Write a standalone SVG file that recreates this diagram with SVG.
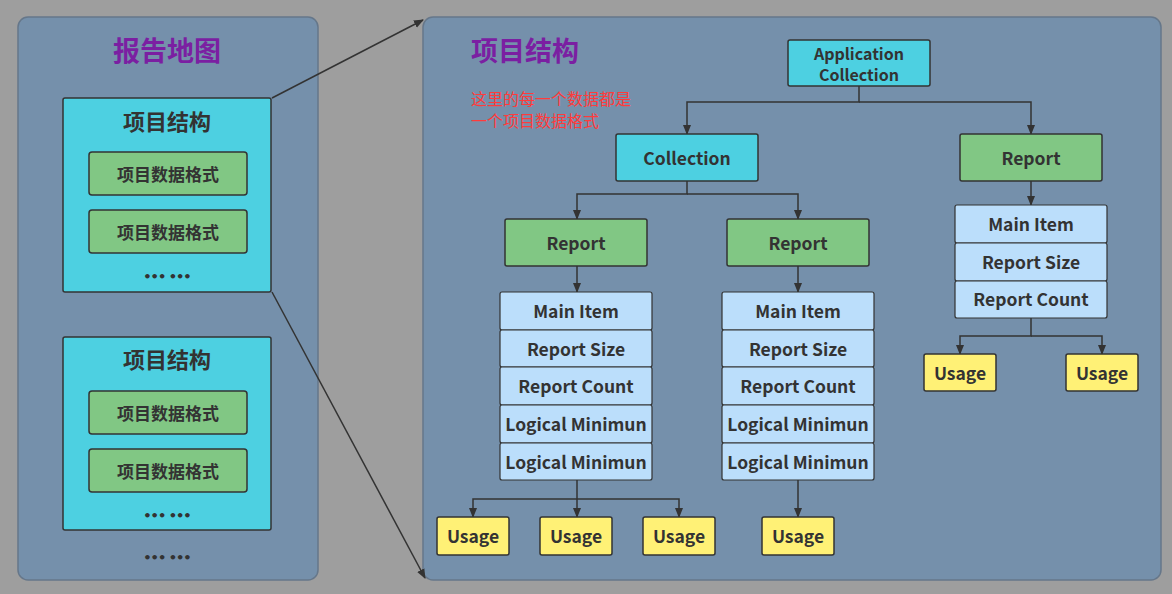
<svg xmlns="http://www.w3.org/2000/svg" width="1172" height="594" viewBox="0 0 1172 594">
<style>
text{font-family:"Noto Sans CJK SC","Open Sans",sans-serif;font-weight:bold;fill:#333;text-anchor:middle;dominant-baseline:central}
.panel{fill:#7590ab;stroke:#66778a;stroke-width:1.5}
.cy{fill:#4dd0e1;stroke:#333;stroke-width:1.5}
.gr{fill:#81c784;stroke:#333;stroke-width:1.5}
.lb{fill:#bbdefb;stroke:#333;stroke-width:1.2}
.ye{fill:#fff176;stroke:#333;stroke-width:1.5}
.t{font-size:17.5px}
.g{font-size:17px}
.h{font-size:22px}
.d{font-size:13px;font-family:"DejaVu Sans",sans-serif;letter-spacing:-1px}
.p{font-size:27px;fill:#7b1fa2}
.r{text-anchor:start;font-size:16px;font-weight:normal;fill:#ff3b3b}
.c path{fill:none;stroke:#333;stroke-width:1.5}
</style>
<defs><marker id="a" markerWidth="10" markerHeight="10" refX="9" refY="5" orient="auto" markerUnits="userSpaceOnUse"><path d="M0,1 L10,5 L0,9 Z" fill="#333"/></marker></defs>
<rect width="1172" height="594" fill="#9e9e9e"/>
<g id="left-panel">
<rect class="panel" x="18" y="17" width="300" height="563" rx="10"/>
<text class="p" x="167" y="49">报告地图</text>
<text class="d" x="167" y="557">••• •••</text>
</g>
<g id="struct1">
<rect class="cy" x="63" y="98" width="208" height="194" rx="2"/>
<text class="h" x="167" y="120">项目结构</text>
<rect class="gr" x="89" y="152" width="158" height="43" rx="3"/><text class="g" x="168" y="173">项目数据格式</text>
<rect class="gr" x="89" y="210" width="158" height="43" rx="3"/><text class="g" x="168" y="231">项目数据格式</text>
<text class="d" x="167" y="276">••• •••</text>
</g>
<g id="struct2">
<rect class="cy" x="63" y="337" width="208" height="193" rx="2"/>
<text class="h" x="167" y="358">项目结构</text>
<rect class="gr" x="89" y="391" width="158" height="43" rx="3"/><text class="g" x="168" y="412">项目数据格式</text>
<rect class="gr" x="89" y="449" width="158" height="43" rx="3"/><text class="g" x="168" y="470">项目数据格式</text>
<text class="d" x="167" y="515">••• •••</text>
</g>
<g id="right-panel">
<rect class="panel" x="423" y="17" width="738" height="563" rx="10"/>
<text class="p" x="471" y="49" style="text-anchor:start">项目结构</text>
<text class="r" x="471" y="98">这里的每一个数据都是</text>
<text class="r" x="471" y="120">一个项目数据格式</text>
</g>
<g class="c" id="connectors">
<path d="M272,98 L423,20" marker-end="url(#a)"/>
<path d="M272,292 L425,578" marker-end="url(#a)"/>
<path d="M859,86 V102 H687 V134" marker-end="url(#a)"/>
<path d="M859,102 H1031 V134" marker-end="url(#a)"/>
<path d="M687,181 V194 H577 V219" marker-end="url(#a)"/>
<path d="M687,194 H798 V219" marker-end="url(#a)"/>
<path d="M577,266 V292" marker-end="url(#a)"/>
<path d="M798,266 V292" marker-end="url(#a)"/>
<path d="M1031,181 V205" marker-end="url(#a)"/>
<path d="M577,480 V517" marker-end="url(#a)"/>
<path d="M577,499 H473 V517" marker-end="url(#a)"/>
<path d="M577,499 H679 V517" marker-end="url(#a)"/>
<path d="M798,480 V517" marker-end="url(#a)"/>
<path d="M1031,318 V336 H960 V354" marker-end="url(#a)"/>
<path d="M1031,336 H1102 V354" marker-end="url(#a)"/>
</g>
<g id="app"><rect class="cy" x="788" y="40" width="142" height="46" rx="2"/><text x="859" y="53" style="font-size:16px">Application</text><text x="859" y="74" style="font-size:16px">Collection</text></g>
<g id="collection"><rect class="cy" x="616" y="134" width="142" height="47" rx="2"/><text class="t" x="687" y="157">Collection</text></g>
<g id="report-r"><rect class="gr" x="960" y="134" width="142" height="47" rx="2"/><text class="t" x="1031" y="157">Report</text></g>
<g id="report-l"><rect class="gr" x="505" y="219" width="142" height="47" rx="2"/><text class="t" x="576" y="242">Report</text></g>
<g id="report-m"><rect class="gr" x="727" y="219" width="142" height="47" rx="2"/><text class="t" x="798" y="242">Report</text></g>
<g id="stack-l">
<rect class="lb" x="500" y="292" width="152" height="38" rx="2"/><text class="t" x="576" y="310">Main Item</text>
<rect class="lb" x="500" y="330" width="152" height="37" rx="2"/><text class="t" x="576" y="348">Report Size</text>
<rect class="lb" x="500" y="367" width="152" height="38" rx="2"/><text class="t" x="576" y="385">Report Count</text>
<rect class="lb" x="500" y="405" width="152" height="38" rx="2"/><text class="t" x="576" y="423">Logical Minimun</text>
<rect class="lb" x="500" y="443" width="152" height="37" rx="2"/><text class="t" x="576" y="461">Logical Minimun</text>
</g>
<g id="stack-m">
<rect class="lb" x="722" y="292" width="152" height="38" rx="2"/><text class="t" x="798" y="310">Main Item</text>
<rect class="lb" x="722" y="330" width="152" height="37" rx="2"/><text class="t" x="798" y="348">Report Size</text>
<rect class="lb" x="722" y="367" width="152" height="38" rx="2"/><text class="t" x="798" y="385">Report Count</text>
<rect class="lb" x="722" y="405" width="152" height="38" rx="2"/><text class="t" x="798" y="423">Logical Minimun</text>
<rect class="lb" x="722" y="443" width="152" height="37" rx="2"/><text class="t" x="798" y="461">Logical Minimun</text>
</g>
<g id="stack-r">
<rect class="lb" x="955" y="205" width="152" height="38" rx="2"/><text class="t" x="1031" y="223">Main Item</text>
<rect class="lb" x="955" y="243" width="152" height="38" rx="2"/><text class="t" x="1031" y="261">Report Size</text>
<rect class="lb" x="955" y="281" width="152" height="37" rx="2"/><text class="t" x="1031" y="298">Report Count</text>
</g>
<g id="usage1"><rect class="ye" x="437" y="517" width="72" height="38" rx="2"/><text class="t" x="473" y="535">Usage</text></g>
<g id="usage2"><rect class="ye" x="540" y="517" width="72" height="38" rx="2"/><text class="t" x="576" y="535">Usage</text></g>
<g id="usage3"><rect class="ye" x="643" y="517" width="72" height="38" rx="2"/><text class="t" x="679" y="535">Usage</text></g>
<g id="usage4"><rect class="ye" x="762" y="517" width="72" height="38" rx="2"/><text class="t" x="798" y="535">Usage</text></g>
<g id="usage5"><rect class="ye" x="924" y="354" width="72" height="37" rx="2"/><text class="t" x="960" y="372">Usage</text></g>
<g id="usage6"><rect class="ye" x="1066" y="354" width="72" height="37" rx="2"/><text class="t" x="1102" y="372">Usage</text></g>
</svg>
